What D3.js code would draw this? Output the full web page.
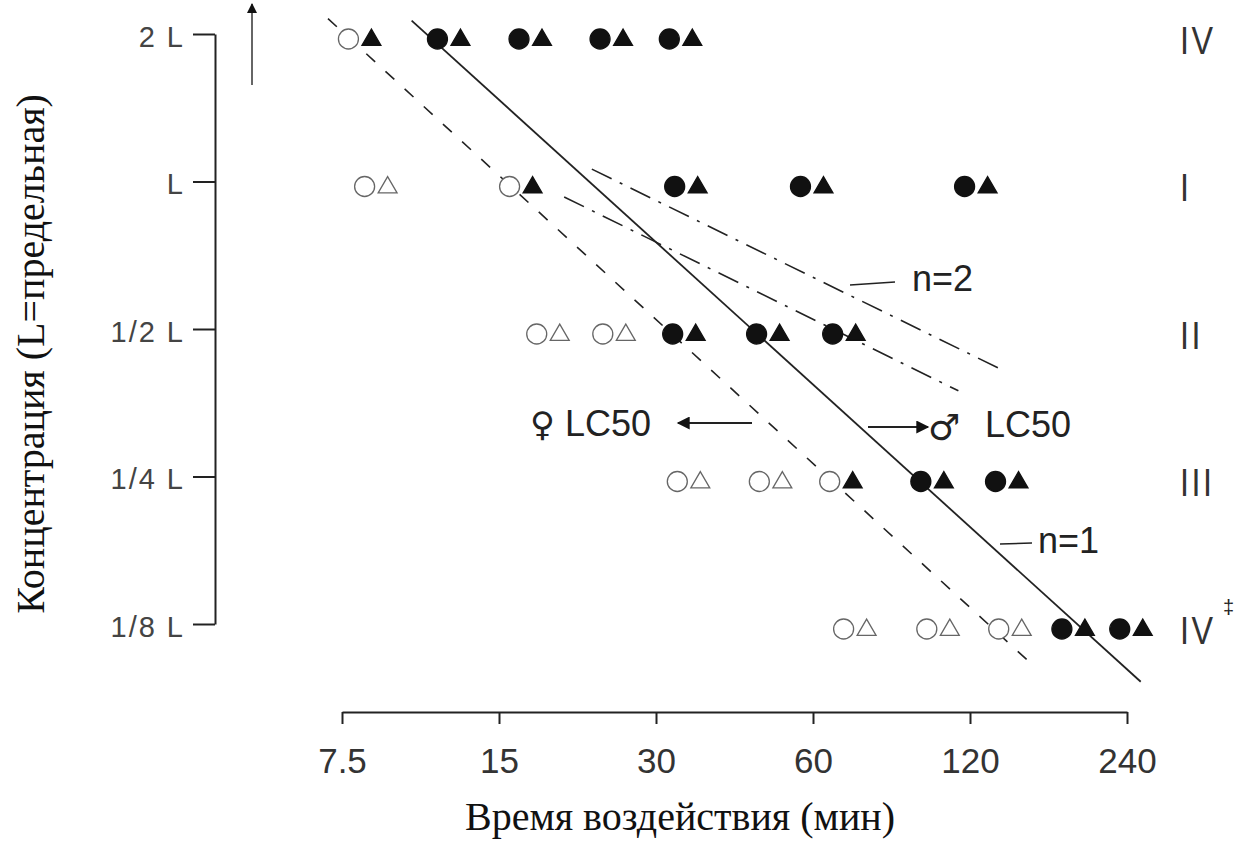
<!DOCTYPE html>
<html>
<head>
<meta charset="utf-8">
<script src="https://cdn.jsdelivr.net/npm/d3@7"></script>
<style>
    body { margin: 0; background: #fff; }
    svg { display: block; }
</style>
</head>
<body>
<svg id="chart" width="1245" height="844"></svg>
<script>
// concentration levels (fractions of L) and their labels
const concLevels = [2, 1, 0.5, 0.25, 0.125];
const concLabels = ["2 L", "L", "1/2 L", "1/4 L", "1/8 L"];
const groupLabels = ["IV", "I", "II", "III", "IV"];

// exposure time ticks (min)
const timeTicks = [7.5, 15, 30, 60, 120, 240];

// exposure times for every circle/triangle pair, one array per concentration row
const times2L = [8.1, 12.0, 17.2, 24.6, 33.4];
const times1L = [8.7, 16.5, 34.2, 59.6, 123];
const timesHalfL = [18.6, 24.9, 33.9, 49.1, 68.7];
const timesQuarterL = [34.6, 49.7, 67.8, 101.4, 141];
const timesEighthL = [72.1, 104.1, 143, 189, 244];

// 1 = dead (filled marker), 0 = survived (open marker)
const circleDead = [
    [0, 1, 1, 1, 1],
    [0, 0, 1, 1, 1],
    [0, 0, 1, 1, 1],
    [0, 0, 0, 1, 1],
    [0, 0, 0, 1, 1]
];
const triangleDead = [
    [1, 1, 1, 1, 1],
    [0, 1, 1, 1, 1],
    [0, 0, 1, 1, 1],
    [0, 0, 1, 1, 1],
    [0, 0, 0, 1, 1]
];

// fitted lines, [time, concentration] end points
const femaleLC50 = [[7.05, 2.15], [160, 0.102]];
const maleLC50 = [[10.2, 2.13], [255, 0.0953]];
const n2Upper = [[22.6, 1.06], [140, 0.41]];
const n2Lower = [[20.0, 0.93], [114, 0.374]];

const rowTimes = [times2L, times1L, timesHalfL, timesQuarterL, timesEighthL];

let svg = d3.select("#chart");

let x = d3.scaleLog().base(2)
    .domain([7.5, 240])
    .range([342, 1127]);

let y = d3.scaleLog().base(2)
    .domain([2, 0.125])
    .range([34, 624]);

const SANS = "'Liberation Sans', Arial, sans-serif";
const SERIF = "'Liberation Serif', 'Times New Roman', serif";

// arrow heads
let defs = svg.append("defs");
defs.append("marker")
    .attr("id", "head")
    .attr("viewBox", "0 0 10 10")
    .attr("refX", 9)
    .attr("refY", 5)
    .attr("markerWidth", 10)
    .attr("markerHeight", 10)
    .attr("markerUnits", "userSpaceOnUse")
    .attr("orient", "auto")
    .append("path")
    .attr("d", "M0,0 L10,5 L0,10 Z")
    .attr("fill", "#111");
defs.append("marker")
    .attr("id", "bighead")
    .attr("viewBox", "0 0 10 10")
    .attr("refX", 9)
    .attr("refY", 5)
    .attr("markerWidth", 16)
    .attr("markerHeight", 13)
    .attr("markerUnits", "userSpaceOnUse")
    .attr("orient", "auto")
    .append("path")
    .attr("d", "M0,0 L10,5 L0,10 Z")
    .attr("fill", "#111");

// y axis
let yAxis = svg.append("g")
    .attr("transform", "translate(215,0)")
    .call(d3.axisLeft(y)
        .tickValues(concLevels)
        .tickFormat((d, i) => concLabels[i])
        .tickSize(22)
        .tickSizeOuter(0)
        .tickPadding(8));
yAxis.select(".domain").attr("stroke", "#222").attr("stroke-width", 2);
yAxis.selectAll(".tick line").attr("stroke", "#222").attr("stroke-width", 2);
yAxis.selectAll(".tick text")
    .attr("font-family", SANS)
    .attr("font-size", 29)
    .attr("letter-spacing", 2)
    .attr("fill", "#444")
    .attr("dy", "0.42em");

// x axis
let xAxis = svg.append("g")
    .attr("transform", "translate(0,712)")
    .call(d3.axisBottom(x)
        .tickValues(timeTicks)
        .tickFormat(d => d)
        .tickSize(12)
        .tickSizeOuter(0)
        .tickPadding(24));
xAxis.select(".domain").attr("stroke", "#222").attr("stroke-width", 2);
xAxis.selectAll(".tick line").attr("stroke", "#222").attr("stroke-width", 2);
xAxis.selectAll(".tick text")
    .attr("font-family", SANS)
    .attr("font-size", 35)
    .attr("fill", "#333");

// axis titles
svg.append("text")
    .attr("x", 680)
    .attr("y", 830)
    .attr("text-anchor", "middle")
    .attr("font-family", SERIF)
    .attr("font-size", 40)
    .attr("fill", "#111")
    .text("Время воздействия (мин)");

svg.append("text")
    .attr("transform", "translate(44,354) rotate(-90)")
    .attr("text-anchor", "middle")
    .attr("font-family", SERIF)
    .attr("font-size", 40)
    .attr("fill", "#111")
    .text("Концентрация (L=предельная)");

// upward arrow next to the y axis
svg.append("line")
    .attr("x1", 252).attr("y1", 85)
    .attr("x2", 252).attr("y2", 4)
    .attr("stroke", "#333")
    .attr("stroke-width", 1.5)
    .attr("marker-end", "url(#head)");

// fitted lines
let line = d3.line()
    .x(d => x(d[0]))
    .y(d => y(d[1]));

function addFit(points, dash, width){
    svg.append("path")
        .attr("d", line(points))
        .attr("fill", "none")
        .attr("stroke", "#222")
        .attr("stroke-width", width)
        .attr("stroke-dasharray", dash);
}
addFit(femaleLC50, "12,14", 1.6);
addFit(maleLC50, null, 1.8);
addFit(n2Upper, "22,9,3,9", 1.6);
addFit(n2Lower, "22,9,3,9", 1.6);

// markers: circle on the left, triangle on the right of each time point
let rows = svg.selectAll("g.row")
    .data(concLevels)
    .enter()
    .append("g")
    .attr("class", "row")
    .attr("transform", d => `translate(0, ${y(d) + 5})`);

rows.each(function(c, r){
    let g = d3.select(this);
    let pts = rowTimes[r].map((t, i) => ({t: t, circ: circleDead[r][i], tri: triangleDead[r][i]}));

    g.selectAll("circle")
        .data(pts)
        .enter()
        .append("circle")
        .attr("cx", d => x(d.t) - 11)
        .attr("cy", 0)
        .attr("r", 10)
        .attr("fill", d => d.circ ? "#111" : "#fff")
        .attr("stroke", d => d.circ ? "#111" : "#666")
        .attr("stroke-width", 1.3);

    g.selectAll("path.tri")
        .data(pts)
        .enter()
        .append("path")
        .attr("class", "tri")
        .attr("d", d3.symbol().type(d3.symbolTriangle).size(155))
        .attr("transform", d => `translate(${x(d.t) + 12}, 1)`)
        .attr("fill", d => d.tri ? "#111" : "#fff")
        .attr("stroke", d => d.tri ? "#111" : "#666")
        .attr("stroke-width", 1.3);
});

// roman group labels on the right
svg.selectAll("text.group")
    .data(concLevels)
    .enter()
    .append("text")
    .attr("class", "group")
    .attr("x", 1180)
    .attr("y", d => y(d) + 20)
    .attr("font-family", SANS)
    .attr("font-size", 38)
    .attr("letter-spacing", 3)
    .attr("fill", "#333")
    .attr("transform", d => `translate(${1180 * 0.15}, 0) scale(0.85, 1)`)
    .text((d, i) => groupLabels[i]);

svg.append("text")
    .attr("x", 1223)
    .attr("y", 614)
    .attr("font-family", SANS)
    .attr("font-size", 20)
    .attr("fill", "#222")
    .text("‡");

// annotations
function label(tx, ty, str, size){
    return svg.append("text")
        .attr("x", tx)
        .attr("y", ty)
        .attr("font-family", SANS)
        .attr("font-size", size)
        .attr("fill", "#222")
        .text(str);
}

// n=2
svg.append("line")
    .attr("x1", 850).attr("y1", 285).attr("x2", 895).attr("y2", 282)
    .attr("stroke", "#222").attr("stroke-width", 1.5);
label(912, 291, "n=2", 36);

// n=1
svg.append("line")
    .attr("x1", 1000).attr("y1", 544).attr("x2", 1032).attr("y2", 543)
    .attr("stroke", "#222").attr("stroke-width", 1.5);
label(1038, 553, "n=1", 36);

// female LC50 with arrow pointing left
svg.append("text")
    .attr("x", 530).attr("y", 436)
    .attr("font-family", "'DejaVu Sans', sans-serif")
    .attr("font-size", 34)
    .attr("fill", "#222")
    .text("♀");
label(565, 436, "LC50", 36);
svg.append("line")
    .attr("x1", 752).attr("y1", 423).attr("x2", 678).attr("y2", 423)
    .attr("stroke", "#222").attr("stroke-width", 2)
    .attr("marker-end", "url(#bighead)");

// male LC50 with arrow pointing right
svg.append("line")
    .attr("x1", 868).attr("y1", 427).attr("x2", 928).attr("y2", 427)
    .attr("stroke", "#222").attr("stroke-width", 2)
    .attr("marker-end", "url(#bighead)");
svg.append("text")
    .attr("x", 928).attr("y", 440)
    .attr("font-family", "'DejaVu Sans', sans-serif")
    .attr("font-size", 36)
    .attr("fill", "#222")
    .text("♂");
label(985, 437, "LC50", 36);
</script>
</body>
</html>
